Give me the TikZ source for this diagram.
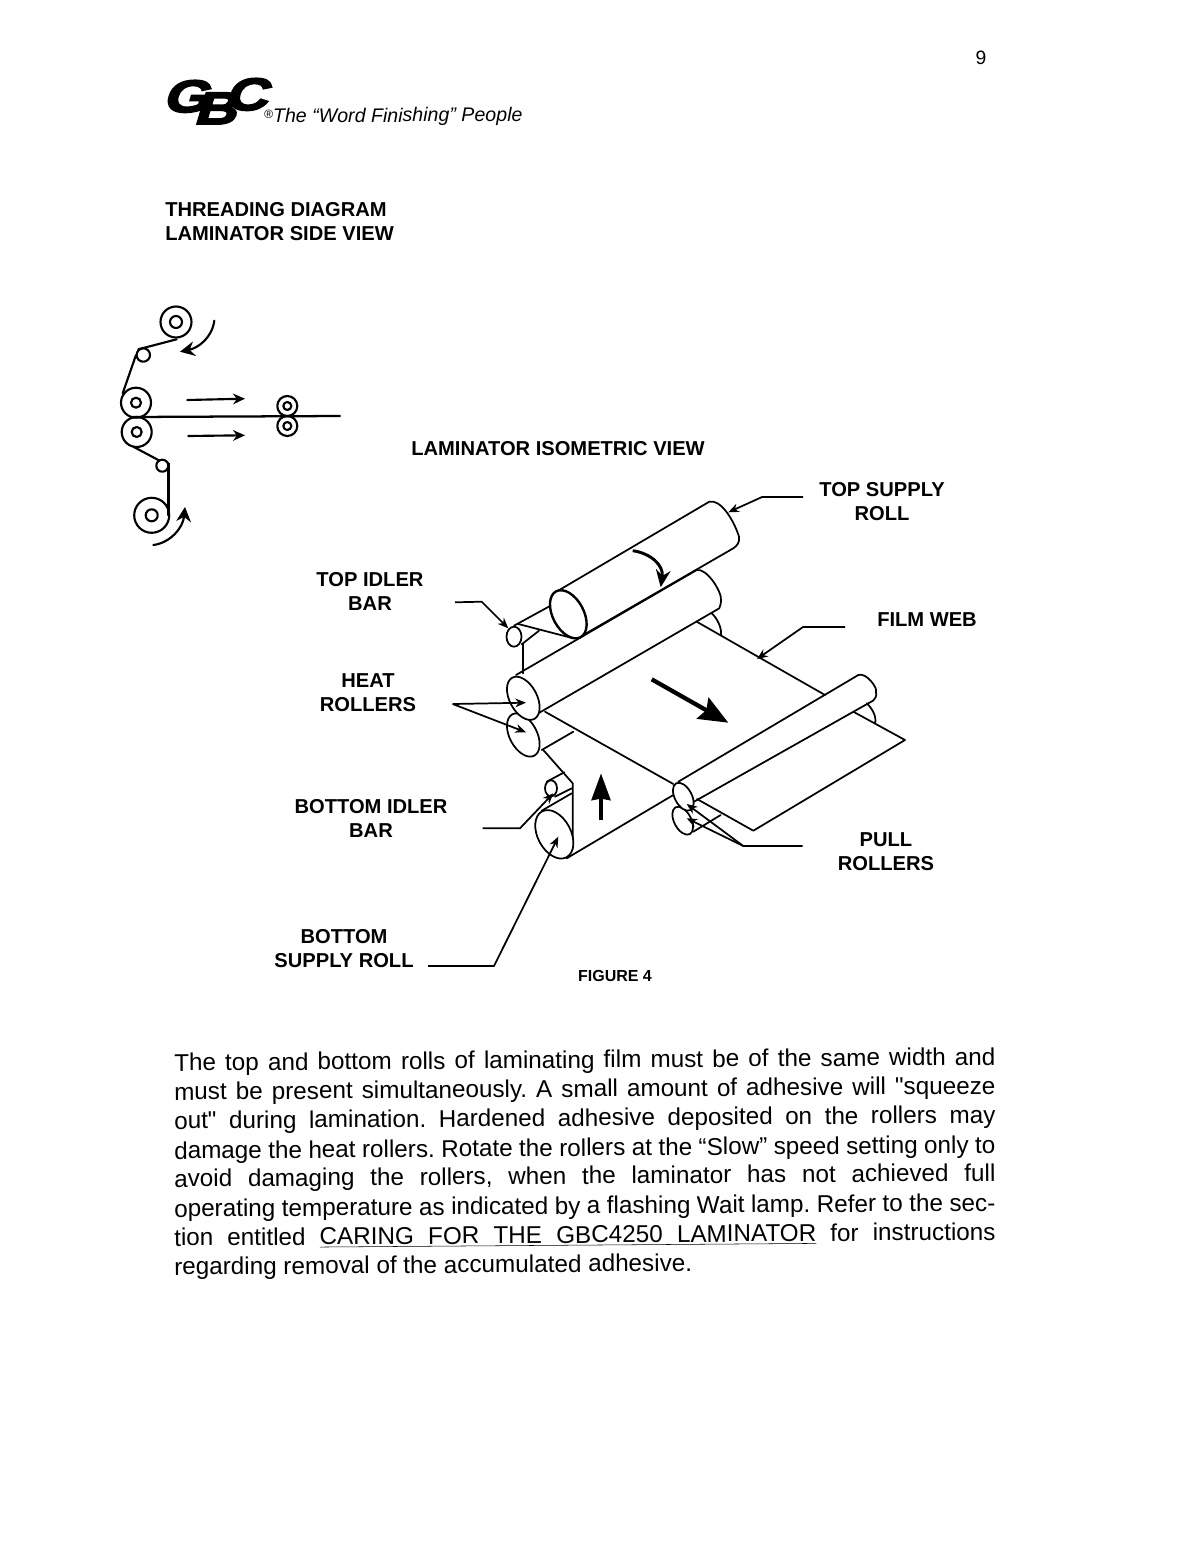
\documentclass[tikz,border=0pt]{standalone}
\usepackage{fontspec}
\setmainfont{Liberation Sans}
\newfontfamily\bodyfont{Liberation Sans}
\newfontfamily\logofont[FakeBold=4,FakeSlant=.3,FakeStretch=1.3]{Liberation Sans Bold}
\usetikzlibrary{arrows.meta}
\frenchspacing
\newcommand{\rollend}[5][]{\draw[ln,fill=white,#1,shift={(#2,#3)},rotate=-62] (0,0) ellipse [x radius=#4,y radius=#5];}
\newcommand{\pline}[3]{\node[para] (#1) at (174,#2) {\makebox[616pt][s]{#3}};}
\tikzset{
 ln/.style={line width=1.3pt,line cap=round,line join=round},
 sv/.style={line width=1.6pt,line cap=round,line join=round},
 lead/.style={line width=1.3pt,line join=round,-{Stealth[length=8pt,width=6.5pt]}},
 lab/.style={font=\fontsize{15.1}{18}\selectfont\bfseries,align=center,inner sep=0pt},
 para/.style={font=\bodyfont\fontsize{18.2}{20}\selectfont,anchor=base west,inner sep=0pt,rotate=0.42},
 logo/.style={font=\logofont\fontsize{34}{34}\selectfont,inner sep=0pt,anchor=base west},
}
\begin{document}
\begin{tikzpicture}[x=0.75pt,y=-0.75pt]
\useasboundingbox (0,0) rectangle (1186,1562);
\fill[white] (0,0) rectangle (1186,1562);
% header
\node[inner sep=0pt,font=\fontsize{14.5}{16}\selectfont] (pg) at (981,58) {9};
\node[logo] (lg) at (162,112) {G\kern-11.2pt\raisebox{-9pt}{B}\kern-8.7pt\raisebox{1.5pt}{C}};
\node[inner sep=0pt,anchor=base west,rotate=0.42,font=\fontsize{14.7}{16}\selectfont\itshape] (tag) at (264,123) {{\fontsize{9}{9}\selectfont\raisebox{3pt}{®}}The “Word Finishing” People};
\node[lab,anchor=base west] (t1) at (165,216.5) {THREADING DIAGRAM};
\node[lab,anchor=base west] (t2) at (165,241) {LAMINATOR SIDE VIEW};
% side view
\foreach \n/\x/\y/\r/\i in {st/176/322/15.5/6, ht/136/402.7/15/5, hb/136.7/432/15/5, pt/287.3/406/10/4, pb/287.3/426/10/4, bs/151.7/515.3/17.5/6}{
  \draw[sv] (\x,\y) circle [radius=\r];
  \draw[sv] (\x,\y) circle [radius=\i];
}
\draw[sv] (143.3,355) circle [radius=6.7];
\draw[sv] (162.3,465.7) circle [radius=6];
\draw[sv] (176.7,339.3) -- (138.3,349.3);
\draw[sv] (136,355) -- (122.7,393.3);
\draw[line width=1.7pt] (133,417) -- (340.7,416);
\draw[sv] (133.3,446.7) -- (158.3,460);
\draw[sv] (168.5,463.3) -- (168.5,515.3);
\draw[sv,-{Stealth[length=9pt,width=8pt]}] (187.3,400) -- (245,398.7);
\draw[sv,-{Stealth[length=9pt,width=8pt]}] (188.3,436) -- (245,435.3);
\draw[sv,-{Stealth[length=11pt,width=11pt]}] (214.3,320.7) .. controls (212,338) and (198,348) .. (180,351.7);
\draw[sv,-{Stealth[length=11pt,width=11pt]}] (153.3,545) .. controls (170,543) and (183,528) .. (185,507);
% isometric heading
\node[lab] (iso) at (558,449) {LAMINATOR ISOMETRIC VIEW};
% top supply roll
\draw[ln] (559.3,590) -- (709.3,501.7) .. controls (720,499) and (733,518) .. (739,536.7) .. controls (740,542) and (737,546) .. (733.3,548.3) -- (583.3,635);
% top idler
\draw[ln] (514,625.7) -- (550,606);
\draw[ln] (521.7,644.3) -- (539,630.7);
\draw[ln] (522.7,644.3) -- (522.7,673.3);
\draw[ln] (518.3,624) -- (573.3,638.3);
\draw[ln,fill=white] (514,636.7) ellipse [x radius=7.5,y radius=10];
\rollend[line width=1.8pt]{568.3}{614.3}{26}{15.5}
% film web far edge and lower heat back
\draw[ln] (711.7,613.3) .. controls (717,618) and (722,628) .. (721,635);
\draw[ln] (696.7,621.7) -- (825,695);
% top heat roller body
\draw[ln] (516,675) -- (696.7,570) .. controls (707,568) and (722,592) .. (721,600) .. controls (721,604) and (720,606) .. (719.3,608.3) -- (538.3,713.3);
% lower heat roller
\draw[ln] (541.7,750) -- (573.3,731.7);
\rollend{523.3}{735}{23.4}{13.7}
\rollend{523.3}{698.3}{23.4}{13.7}
% film
\draw[ln] (545,711.7) -- (673.3,784);
\draw[ln] (543.3,750) -- (572.7,783.3) -- (572.7,848);
% bottom idler
\draw[ln] (546.7,781.7) -- (564.3,772.3);
\draw[ln] (555,796.7) -- (571.7,788.3);
\draw[ln,fill=white] (551,788.3) ellipse [x radius=6,y radius=8];
\draw[ln] (541.7,810.7) -- (571.7,793.3);
\draw[ln] (566.7,858.3) -- (673.3,795);
\rollend{554.3}{834.3}{26}{16.6}
% pull rollers
\draw[ln] (866.7,703.3) .. controls (872,708) and (877,717) .. (875,723.3);
\draw[ln] (853.3,711.7) -- (905,740) -- (753.3,830.7) -- (697,799);
\draw[ln] (693.3,831.7) -- (720.7,815);
\draw[ln] (678.3,781.7) -- (858.3,675) .. controls (866,672) and (878,688) .. (876,692) .. controls (877,696) and (875,699) .. (873.3,700.5) -- (694,801.7);
\rollend{682.7}{820.7}{15.2}{8.5}
\rollend{683.3}{796.7}{15.2}{8.5}
% direction arrows
\draw[line width=2.2pt,-{Stealth[length=13pt,width=11pt]}] (632.7,550.7) .. controls (650,553) and (664,565) .. (660.7,587.3);
\draw[line width=3.2pt,-{Stealth[length=22pt,width=18pt,inset=3pt]}] (651.7,679.3) -- (728.3,722.7);
\draw[line width=3.2pt,-{Stealth[length=20pt,width=14pt,inset=1pt]}] (601,820) -- (601,773.3);
% labels
\node[lab] (ltsr) at (882,502) {TOP SUPPLY\\ROLL};
\node[lab] (lfw) at (927,620) {FILM WEB};
\node[lab] (ltib) at (370,591.5) {TOP IDLER\\BAR};
\node[lab] (lhr) at (368,693) {HEAT\\ROLLERS};
\node[lab] (lbib) at (371,818) {BOTTOM IDLER\\BAR};
\node[lab] (lbsr) at (344,949) {BOTTOM\\SUPPLY ROLL};
\node[lab] (lpr) at (886,852) {PULL\\ROLLERS};
\node[inner sep=0pt,font=\fontsize{12}{14}\selectfont\bfseries] (fig) at (615,975.5) {FIGURE 4};
% leaders
\coordinate (a1s) at (803,497); \coordinate (a1k) at (762,497); \coordinate (a1e) at (728.3,512.3);
\draw[lead] (a1s) -- (a1k) -- (a1e);
\coordinate (a2s) at (845,627); \coordinate (a2k) at (803,627); \coordinate (a2e) at (757,659);
\draw[lead] (a2s) -- (a2k) -- (a2e);
\coordinate (a3s) at (455,602.3); \coordinate (a3k) at (481.7,601.7); \coordinate (a3e) at (508.3,628.3);
\draw[lead] (a3s) -- (a3k) -- (a3e);
\coordinate (a4s) at (452.7,704); \coordinate (a4e) at (526,702.7); \coordinate (a5e) at (526,732.3);
\draw[lead] (a4s) -- (a4e);
\draw[lead] (a4s) -- (a5e);
\coordinate (a6s) at (482.7,828.3); \coordinate (a6k) at (520,828.3); \coordinate (a6e) at (553.3,793.3);
\draw[lead] (a6s) -- (a6k) -- (a6e);
\coordinate (a7s) at (428,966); \coordinate (a7k) at (494,966); \coordinate (a7e) at (558.3,836.7);
\draw[lead] (a7s) -- (a7k) -- (a7e);
\coordinate (a8s) at (802.7,846); \coordinate (a8k) at (743.3,846); \coordinate (a8e) at (686.7,804); \coordinate (a9e) at (686.7,818.3);
\draw[lead] (a8s) -- (a8k) -- (a8e);
\draw[lead] (a8k) -- (a9e);
% paragraph
\pline{p1}{1071}{The top and bottom rolls of laminating film must be of the same width and}
\pline{p2}{1100}{must be present simultaneously. A small amount of adhesive will "squeeze}
\pline{p3}{1129}{out" during lamination. Hardened adhesive deposited on the rollers may}
\pline{p4}{1159}{damage the heat rollers. Rotate the rollers at the “Slow” speed setting only to}
\pline{p5}{1187}{avoid damaging the rollers, when the laminator has not achieved full}
\pline{p6}{1217}{operating temperature as indicated by a flashing Wait lamp. Refer to the sec-}
\pline{p7}{1246}{tion entitled \underline{\hbox to 372.5pt{CARING\hfil\ FOR\hfil\ THE\hfil\ GBC4250\hfil\ LAMINATOR}} for instructions}
\node[para] (p8) at (174,1275) {regarding removal of the accumulated adhesive.};
\end{tikzpicture}
\end{document}
